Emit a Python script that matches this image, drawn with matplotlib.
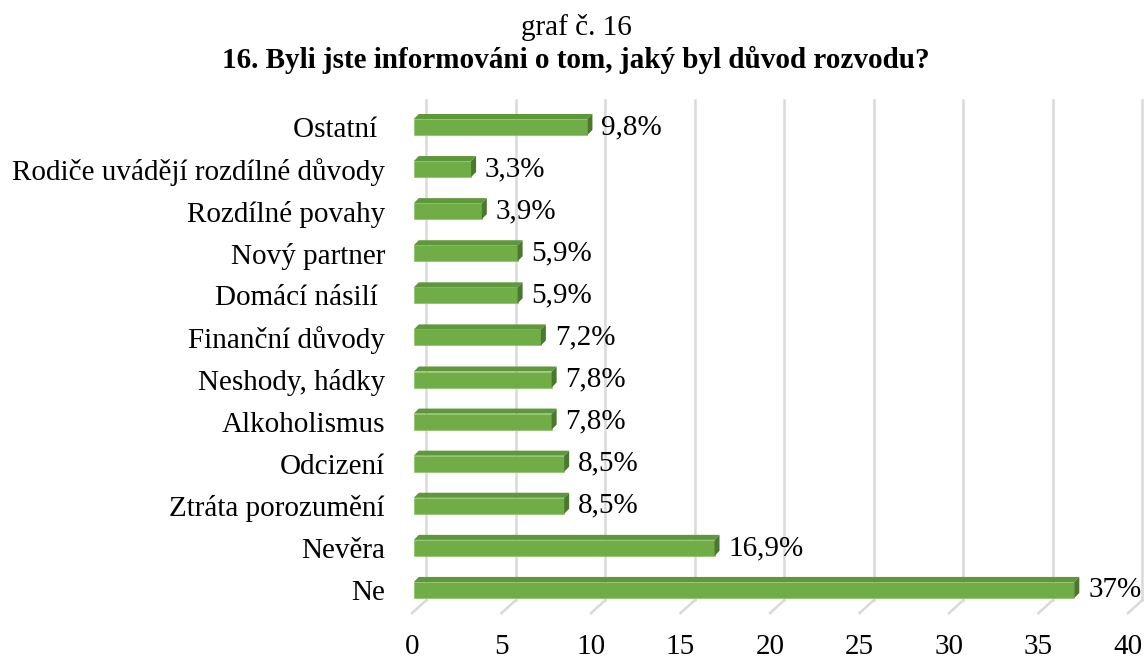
import matplotlib.pyplot as plt
from matplotlib.patches import Polygon

categories = ["Ne", "Nevěra", "Ztráta porozumění", "Odcizení", "Alkoholismus",
              "Neshody, hádky", "Finanční důvody", "Domácí násilí ", "Nový partner",
              "Rozdílné povahy", "Rodiče uvádějí rozdílné důvody", "Ostatní "]
values = [37, 16.9, 8.5, 8.5, 7.8, 7.8, 7.2, 5.9, 5.9, 3.9, 3.3, 9.8]
xticks = [0, 5, 10, 15, 20, 25, 30, 35, 40]

plt.rcParams['font.family'] = ['Liberation Serif', 'DejaVu Serif']

fig = plt.figure(figsize=(11.45, 6.59), dpi=100)
ax = fig.add_axes([412 / 1145, 0.0696, 716 / 1145, 0.7792])
ax.set_xlim(0, 40)
ax.set_ylim(-0.55, 11.65)

# back wall grid, shifted up/right, with a diagonal on the floor
gdx = 0.8
for v in xticks:
    ax.plot([v + gdx, v + gdx], [-0.24, 11.65], color="#d9d9d9", lw=1.8,
            clip_on=False, zorder=1)
    ax.plot([v + gdx, v], [-0.24, -0.55], color="#d9d9d9", lw=1.8,
            clip_on=False, zorder=1)

h = 0.38
ddx, ddy = 0.28, 0.12
for i, v in enumerate(values):
    y0, y1 = i - h / 2, i + h / 2
    ax.add_patch(Polygon([(0.1, y0), (v, y0), (v, y1), (0.1, y1)],
                         closed=True, fc="#70ad47", ec="#8cc168", lw=0.5, zorder=3))
    ax.add_patch(Polygon([(0.1, y1), (v, y1), (v + ddx, y1 + ddy), (0.1 + ddx, y1 + ddy)],
                         closed=True, fc="#5e983b", ec="none", zorder=3))
    ax.add_patch(Polygon([(v, y0), (v, y1), (v + ddx, y1 + ddy), (v + ddx, y0 + ddy)],
                         closed=True, fc="#4b782e", ec="none", zorder=3))
    lab = f"{v:g}".replace(".", ",") + "%"
    ax.text(v + ddx + 0.5, i, lab, ha="left", va="center", fontsize=21, zorder=4)

ax.set_yticks(range(len(categories)))
ax.set_yticklabels(categories, fontsize=21)
ax.set_xticks(xticks)
ax.set_xticklabels([str(t) for t in xticks], fontsize=21)
ax.tick_params(axis="both", length=0)
ax.tick_params(axis="y", pad=19.5)
ax.tick_params(axis="x", pad=15)
for s in ax.spines.values():
    s.set_visible(False)

fig.text(0.503, (659 - 35) / 659, "graf č. 16", ha="center", va="baseline",
         fontsize=21)
fig.text(0.503, (659 - 68) / 659,
         "16. Byli jste informováni o tom, jaký byl důvod rozvodu?",
         ha="center", va="baseline", fontsize=21, fontweight="bold")

fig.savefig("out.png", dpi=100)
